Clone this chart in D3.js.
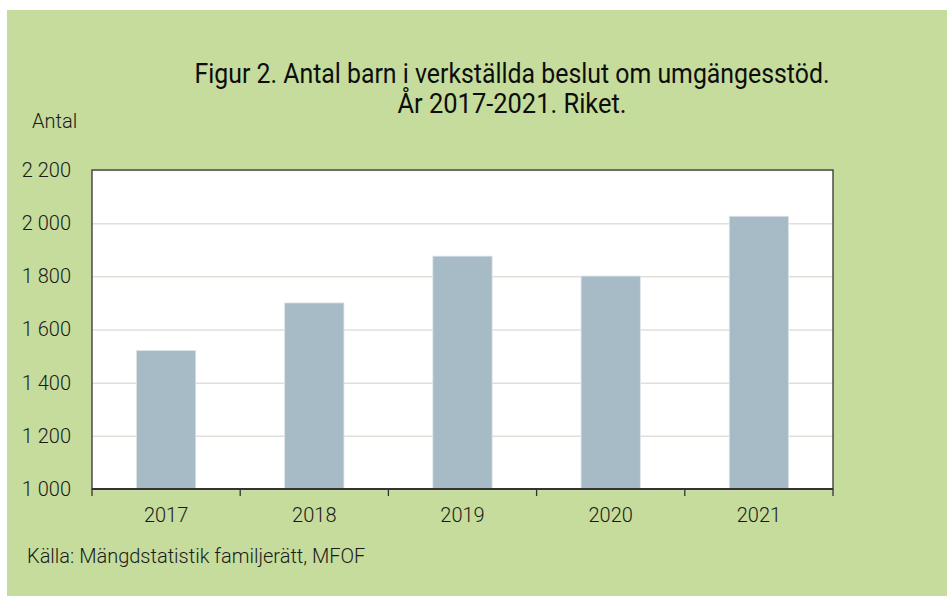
<!DOCTYPE html>
<html>
<head>
<meta charset="utf-8">
<script src="https://cdn.jsdelivr.net/npm/d3@7"></script>
<style>
  body { margin: 0; background: #ffffff; }
  text { font-family: Roboto, "Noto Sans", sans-serif; fill: #1a1a1a; }
</style>
</head>
<body>
<div id="chart"></div>
<script>
// data
var years = ["2017", "2018", "2019", "2020", "2021"];
var antal = [1521, 1700, 1876, 1801, 2026];
var yTicks = [1000, 1200, 1400, 1600, 1800, 2000, 2200];
var titleLines = ["Figur 2. Antal barn i verkställda beslut om umgängesstöd.", "År 2017-2021. Riket."];
var yLabel = "Antal";
var source = "Källa: Mängdstatistik familjerätt, MFOF";

var W = 947, H = 596;
var margin = { top: 170, right: 114, bottom: 107, left: 92 },
    width = W - margin.left - margin.right,
    height = H - margin.top - margin.bottom;

var svg = d3.select("#chart")
    .append("svg")
    .attr("width", W)
    .attr("height", H);

// green panel
svg.append("rect")
    .attr("x", 7).attr("y", 10)
    .attr("width", W - 7).attr("height", H - 10)
    .attr("fill", "#c5dc9c");

// title
svg.selectAll(".title")
    .data(titleLines)
    .enter()
    .append("text")
    .attr("class", "title")
    .attr("x", 512)
    .attr("y", function (d, i) { return 83 + i * 30; })
    .attr("text-anchor", "middle")
    .style("font-size", "27px")
    .style("fill", "#0d0d0d")
    .attr("textLength", function (d, i) { return i == 0 ? 635 : 229; })
    .attr("lengthAdjust", "spacingAndGlyphs")
    .text(function (d) { return d; });

// y axis label
svg.append("text")
    .attr("x", 32)
    .attr("y", 128)
    .style("font-size", "20px")
    .style("font-weight", 300)
    .text(yLabel);

// source
svg.append("text")
    .attr("x", 27)
    .attr("y", 563)
    .style("font-size", "20px")
    .style("font-weight", 300)
    .text(source);

var g = svg.append("g")
    .attr("transform", "translate(" + margin.left + "," + margin.top + ")");

// plot background
g.append("rect")
    .attr("width", width)
    .attr("height", height)
    .attr("fill", "white");

var x = d3.scaleBand()
    .domain(years)
    .range([0, width])
    .paddingInner(0.6)
    .paddingOuter(0.3);

var y = d3.scaleLinear()
    .domain([1000, 2200])
    .range([height, 0]);

// gridlines
g.append("g")
    .attr("class", "grid")
    .call(d3.axisLeft(y)
        .tickValues(yTicks)
        .tickSize(-width)
        .tickFormat("")
    )
    .call(function (s) {
        s.select(".domain").remove();
        s.selectAll("line").attr("stroke", "#e2e0d6").attr("stroke-width", 1.5);
    });

// bars
g.selectAll(".bar")
    .data(years)
    .enter()
    .append("rect")
    .attr("class", "bar")
    .attr("x", function (d) { return x(d); })
    .attr("y", function (d, i) { return y(antal[i]); })
    .attr("width", x.bandwidth())
    .attr("height", function (d, i) { return height - y(antal[i]); })
    .attr("fill", "#a7bbc6")
    .attr("stroke", "#dce5ea")
    .attr("stroke-width", 0.8);

// y tick labels
g.append("g")
    .call(d3.axisLeft(y)
        .tickValues(yTicks)
        .tickSize(0)
        .tickPadding(21)
        .tickFormat(function (d) { return d3.format(",")(d).replace(",", " "); })
    )
    .call(function (s) {
        s.select(".domain").remove();
        s.selectAll("text")
            .style("font-size", "20px")
            .style("font-weight", 300)
            .style("font-family", "Roboto, sans-serif")
            .attr("fill", "#1a1a1a");
    });

// frame
g.append("rect")
    .attr("width", width)
    .attr("height", height)
    .attr("fill", "none")
    .attr("stroke", "#333")
    .attr("stroke-width", 1.3);

// x axis: boundary ticks between categories
var bounds = d3.range(years.length + 1).map(function (i) { return i * width / years.length; });
g.selectAll(".xtick")
    .data(bounds)
    .enter()
    .append("line")
    .attr("x1", function (d) { return d; })
    .attr("x2", function (d) { return d; })
    .attr("y1", height)
    .attr("y2", height + 7)
    .attr("stroke", "#333")
    .attr("stroke-width", 1.3);

g.append("line")
    .attr("x1", 0).attr("x2", width)
    .attr("y1", height).attr("y2", height)
    .attr("stroke", "#333")
    .attr("stroke-width", 2.2);

// x labels
g.selectAll(".xlab")
    .data(years)
    .enter()
    .append("text")
    .attr("x", function (d) { return x(d) + x.bandwidth() / 2; })
    .attr("y", height + 33)
    .attr("text-anchor", "middle")
    .style("font-size", "20px")
    .style("font-weight", 300)
    .text(function (d) { return d; });
</script>
</body>
</html>
